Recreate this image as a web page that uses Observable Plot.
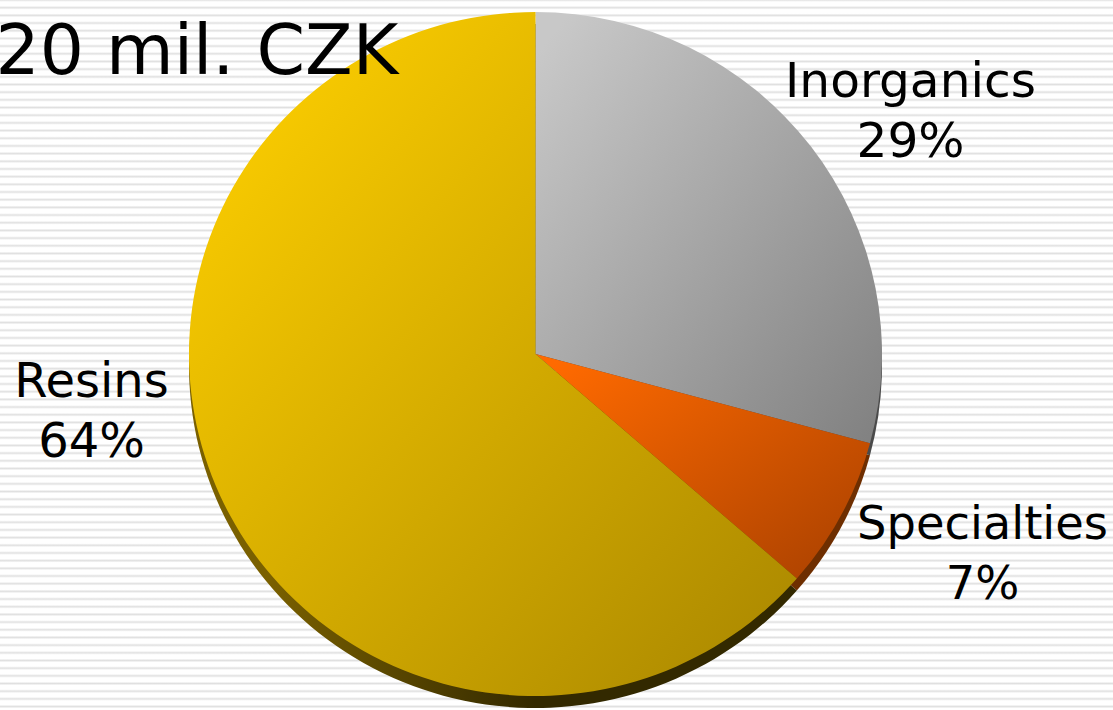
<!DOCTYPE html>
<html>
<head>
<meta charset="utf-8">
<script src="https://cdn.jsdelivr.net/npm/d3@7"></script>
<script src="https://cdn.jsdelivr.net/npm/@observablehq/plot@0.6"></script>
<style>
html,body{margin:0;padding:0;width:1113px;height:710px;overflow:hidden;background:#fff}
body{background-image:repeating-linear-gradient(to bottom,#e0e0e0 0,#f4f4f4 1.2px,#fff 1.9px,#fff 5.8px,#f4f4f4 6.5px,#e0e0e0 7.68px)}
svg{display:block}
</style>
</head>
<body>
<div id="chart"></div>
<script>
const categories = ["Inorganics", "Specialties", "Resins"];
const shares = [29.2, 7.2, 63.6];
const shareLabels = ["29%", "7%", "64%"];
const titleText = "20 mil. CZK";

const labelX = [910, 982, 91];
const labelY = [107, 549, 407];
const labelSize = [48.6, 46.4, 48];
const faceStart = ["#c8c8c8", "#ff6a00", "#ffd000"];
const faceEnd = ["#808080", "#a84000", "#a88600"];
const sideStart = ["#4a4a4a", "#6e2e00", "#7a6000"];
const sideEnd = ["#4a4a4a", "#6e2e00", "#332900"];

const centerX = 535.5, centerY = 354, radiusX = 346.5, radiusY = 342, depth = 12;

const slices = d3.pie().sort(null).value(d => d)(shares);

function pieMark(index, scales) {
  const g = d3.create("svg:g");
  const defs = g.append("defs");
  const grad = (id, a, b, x1, y1, x2, y2) => {
    const lg = defs.append("linearGradient").attr("id", id)
      .attr("x1", x1).attr("y1", y1).attr("x2", x2).attr("y2", y2);
    lg.append("stop").attr("offset", 0).attr("stop-color", a);
    lg.append("stop").attr("offset", 1).attr("stop-color", b);
  };
  categories.forEach((c, i) => {
    grad("face" + i, faceStart[i], faceEnd[i], 0.05, 0.05, 1, 1);
    grad("side" + i, sideStart[i], sideEnd[i], 0.13, 0.5, 0.57, 0.5);
  });
  const cx = scales.x(centerX), cy = scales.y(centerY);
  const rx = scales.x(centerX + radiusX) - cx, ry = cy - scales.y(centerY - radiusY);
  const arc = d3.arc().innerRadius(0).outerRadius(rx);
  const draw = (dy, prefix) => g.append("g")
    .attr("transform", `translate(${cx},${cy + dy}) scale(1,${ry / rx})`)
    .selectAll("path").data(slices).join("path")
    .attr("d", arc)
    .attr("fill", (d, i) => `url(#${prefix}${i})`);
  draw(depth, "side");
  draw(0, "face");
  return g.node();
}

const labelRows = categories.map((c, i) => ({name: c, share: shareLabels[i], x: labelX[i], y: labelY[i], size: labelSize[i]}));

const plot = Plot.plot({
  width: 1113,
  height: 710,
  margin: 0,
  style: {background: "transparent"},
  x: {domain: [0, 1113], range: [0, 1113], axis: null},
  y: {domain: [0, 710], range: [0, 710], axis: null},
  marks: [
    pieMark,
    ...labelRows.map(d => Plot.text([d], {
      x: "x", y: "y",
      text: r => r.name + "\n" + r.share,
      fontFamily: "DejaVu Sans", fontSize: d.size, lineHeight: 60 / d.size,
      fill: "#000", textAnchor: "middle"
    })),
    Plot.text([titleText], {
      x: [-5], y: [51], text: d => d,
      fontFamily: "DejaVu Sans", fontSize: 69.5,
      fill: "#000", textAnchor: "start"
    })
  ]
});
document.getElementById("chart").appendChild(plot);
</script>
</body>
</html>
